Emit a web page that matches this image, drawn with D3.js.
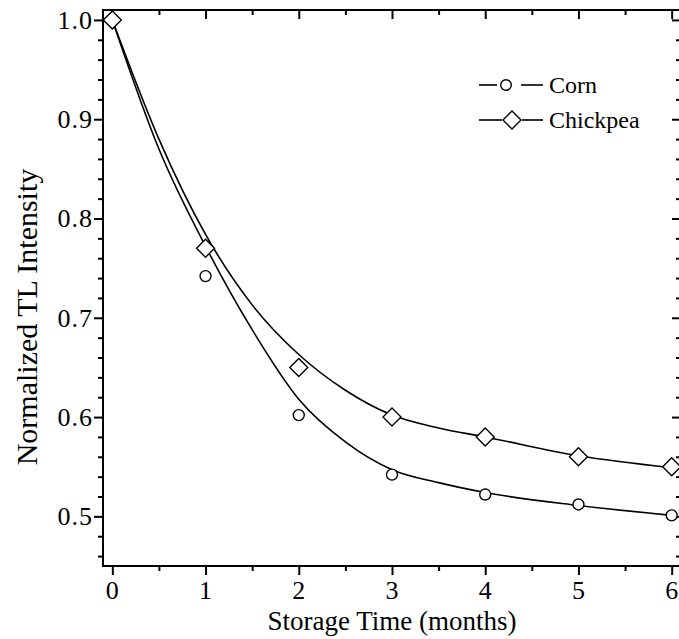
<!DOCTYPE html>
<html lang="en">
<head>
  <meta charset="UTF-8">
  <title>TL decay</title>
  <script src="https://cdn.jsdelivr.net/npm/d3@7"></script>
  <style>
    body { margin: 0; background: #fff; }
    text { font-family: "Liberation Serif", "Times New Roman", serif; fill: #000; }
    .frame { fill: none; stroke: #000; stroke-width: 2px; }
    .tick line { stroke: #000; stroke-width: 2px; }
    .fit { fill: none; stroke: #000; stroke-width: 1.6px; }
    .mark { fill: #fff; stroke: #000; stroke-width: 1.4px; }
  </style>
</head>
<body>
<div class="chart"></div>
<script>
  // measured points
  const months = [0, 1, 2, 3, 4, 5, 6]
  const corn = [1.0, 0.742, 0.602, 0.542, 0.522, 0.512, 0.501]
  const chickpea = [1.0, 0.770, 0.650, 0.600, 0.580, 0.560, 0.550]

  // fitted curves
  const fitMonths = [0, 0.5, 1, 1.5, 2, 2.5, 3, 3.5, 4, 5, 6]
  const cornFit = [1.0, 0.870, 0.772, 0.688, 0.618, 0.575, 0.547, 0.534, 0.524, 0.511, 0.501]
  const chickpeaFit = [1.0, 0.880, 0.784, 0.713, 0.663, 0.627, 0.602, 0.589, 0.580, 0.561, 0.549]

  const xTicks = [0, 1, 2, 3, 4, 5, 6]
  const yTicks = [0.5, 0.6, 0.7, 0.8, 0.9, 1.0]
  const seriesNames = ['Corn', 'Chickpea']

  const bxSize = {w: 679, h: 639}
  const margin = {top: 10, right: -2, bottom: 73, left: 103}
  const [width, height] = [bxSize.w - margin.left - margin.right, bxSize.h - margin.top - margin.bottom]

  const svg = d3.select('.chart').append('svg')
    .attr('width', bxSize.w).attr('height', bxSize.h)
  const g = svg.append('g').attr('transform', `translate(${margin.left} ${margin.top})`)

  const x = d3.scaleLinear().domain([-0.1, 6.1]).range([0, width])
  const y = d3.scaleLinear().domain([0.45, 1.01]).range([height, 0])

  const xMinor = d3.range(0.5, 6, 1)
  const yMinor = d3.range(0.46, 1.0, 0.02).filter(v => Math.abs(v * 10 - Math.round(v * 10)) > 0.01)

  function axisStyle(sel) {
    sel.select('.domain').remove()
    sel.selectAll('text').style('font-size', '26px').style('letter-spacing', '1px')
  }

  // bottom: ticks outward
  g.append('g').attr('transform', `translate(0 ${height})`)
    .call(d3.axisBottom(x).tickValues(xTicks).tickFormat(d3.format('d')).tickSize(9).tickPadding(6))
    .call(axisStyle)
  g.append('g').attr('transform', `translate(0 ${height})`)
    .call(d3.axisBottom(x).tickValues(xMinor).tickFormat('').tickSize(5))
    .call(axisStyle)
  // top: ticks inward
  g.append('g').call(d3.axisBottom(x).tickValues(xTicks).tickFormat('').tickSize(9)).call(axisStyle)
  g.append('g').call(d3.axisBottom(x).tickValues(xMinor).tickFormat('').tickSize(5)).call(axisStyle)
  // left: ticks outward
  g.append('g')
    .call(d3.axisLeft(y).tickValues(yTicks).tickFormat(d3.format('.1f')).tickSize(9).tickPadding(1))
    .call(axisStyle)
  g.append('g').call(d3.axisLeft(y).tickValues(yMinor).tickFormat('').tickSize(5)).call(axisStyle)
  // right: ticks inward
  g.append('g').attr('transform', `translate(${width} 0)`)
    .call(d3.axisLeft(y).tickValues(yTicks).tickFormat('').tickSize(9)).call(axisStyle)
  g.append('g').attr('transform', `translate(${width} 0)`)
    .call(d3.axisLeft(y).tickValues(yMinor).tickFormat('').tickSize(5)).call(axisStyle)

  g.append('rect').attr('class', 'frame').attr('width', width).attr('height', height)

  // fit curves
  const line = d3.line().x(d => x(d[0])).y(d => y(d[1])).curve(d3.curveMonotoneX)
  g.append('path').attr('class', 'fit').attr('d', line(d3.zip(fitMonths, cornFit)))
  g.append('path').attr('class', 'fit').attr('d', line(d3.zip(fitMonths, chickpeaFit)))

  const diamond = s => `M0,${-s}L${s},0L0,${s}L${-s},0Z`

  g.selectAll('circle.mark').data(d3.zip(months, corn)).enter().append('circle')
    .attr('class', 'mark').attr('r', 5.5)
    .attr('cx', d => x(d[0])).attr('cy', d => y(d[1]))
  g.selectAll('path.mark').data(d3.zip(months, chickpea)).enter().append('path')
    .attr('class', 'mark').attr('d', diamond(9))
    .attr('transform', d => `translate(${x(d[0])} ${y(d[1])})`)

  // legend
  const leg = svg.append('g')
  const rows = [{name: seriesNames[0], cy: 85, l: [479, 497], r: [521, 543], sx: 506},
                {name: seriesNames[1], cy: 120, l: [479, 502], r: [522, 543], sx: 512}]
  rows.forEach((r, i) => {
    leg.append('line').attr('x1', r.l[0]).attr('x2', r.l[1]).attr('y1', r.cy).attr('y2', r.cy)
      .attr('stroke', '#000').attr('stroke-width', 1.6)
    leg.append('line').attr('x1', r.r[0]).attr('x2', r.r[1]).attr('y1', r.cy).attr('y2', r.cy)
      .attr('stroke', '#000').attr('stroke-width', 1.6)
    if (i === 0) leg.append('circle').attr('class', 'mark').attr('cx', r.sx).attr('cy', r.cy).attr('r', 5.3)
    else leg.append('path').attr('class', 'mark').attr('d', diamond(9)).attr('transform', `translate(${r.sx} ${r.cy})`)
    leg.append('text').attr('x', 549).attr('y', r.cy + 8).style('font-size', '24px').text(r.name)
  })

  // axis titles
  svg.append('text').attr('x', margin.left + width / 2).attr('y', 630)
    .attr('text-anchor', 'middle').style('font-size', '27px').text('Storage Time (months)')
  svg.append('text').attr('transform', 'translate(37 317) rotate(-90)')
    .attr('text-anchor', 'middle').style('font-size', '30px').text('Normalized TL Intensity')
</script>
</body>
</html>
